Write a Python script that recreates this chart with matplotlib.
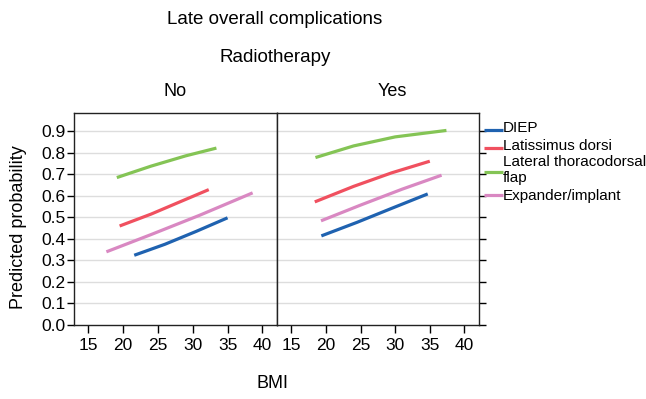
import matplotlib.pyplot as plt
from matplotlib.lines import Line2D

plt.rcParams['font.family'] = ['Liberation Sans', 'DejaVu Sans']

groups = ["DIEP", "Latissimus dorsi", "Lateral thoracodorsal\nflap", "Expander/implant"]
colors = ["#1f62b0", "#f0505f", "#84c455", "#d988c2"]

# Radiotherapy = No
no_bmi = [
    [21.6, 26.0, 30.5, 35.0],
    [19.5, 24.0, 28.0, 32.3],
    [19.1, 24.0, 29.0, 33.4],
    [17.6, 24.0, 31.0, 38.6],
]
no_prob = [
    [0.324, 0.375, 0.435, 0.498],
    [0.460, 0.515, 0.570, 0.629],
    [0.685, 0.738, 0.786, 0.822],
    [0.340, 0.420, 0.510, 0.614],
]

# Radiotherapy = Yes
yes_bmi = [
    [19.35, 24.5, 29.5, 34.7],
    [18.4, 24.0, 29.5, 35.0],
    [18.5, 24.0, 30.0, 37.4],
    [19.3, 25.0, 31.0, 36.7],
]
yes_prob = [
    [0.414, 0.477, 0.542, 0.609],
    [0.572, 0.644, 0.707, 0.761],
    [0.778, 0.832, 0.874, 0.904],
    [0.484, 0.557, 0.631, 0.696],
]

xticks = [15, 20, 25, 30, 35, 40]
yticks = [0.0, 0.1, 0.2, 0.3, 0.4, 0.5, 0.6, 0.7, 0.8, 0.9]

W, H = 646, 399
fig = plt.figure(figsize=(6.46, 3.99), dpi=100)
ax1 = fig.add_axes([74 / W, 1 - 325 / H, 203 / W, 212 / H])
ax2 = fig.add_axes([277 / W, 1 - 325 / H, 202 / W, 212 / H])

for ax, xs, ys in [(ax1, no_bmi, no_prob), (ax2, yes_bmi, yes_prob)]:
    for g in range(len(groups)):
        ax.plot(xs[g], ys[g], color=colors[g], lw=2.3, solid_capstyle='butt')
    ax.set_xlim(12.95, 42.1)
    ax.set_ylim(0, 0.985)
    ax.set_xticks(xticks)
    ax.set_yticks(yticks)
    for y in yticks[1:]:
        ax.axhline(y, color="#dddddd", lw=1, zorder=0)
    for s in ax.spines.values():
        s.set_linewidth(1)
        s.set_color("#222222")
    ax.tick_params(axis='x', direction='out', length=6, width=1, labelsize=12.5, pad=3)
    ax.tick_params(axis='y', direction='out', length=5, width=1, labelsize=12.5, pad=1)

ax2.yaxis.tick_right()
ax2.tick_params(axis='y', labelright=False)
ax1.set_yticklabels([f"{v:.1f}" for v in yticks])

fig.text(18.5 / W, 1 - 227 / H, "Predicted probability", rotation=90, ha='center', va='center', fontsize=13)
fig.text(275 / W, 1 - 19 / H, "Late overall complications", ha='center', va='center', fontsize=13.5)
fig.text(275 / W, 1 - 57 / H, "Radiotherapy", ha='center', va='center', fontsize=13.5)
fig.text(175 / W, 1 - 92 / H, "No", ha='center', va='center', fontsize=13)
fig.text(392 / W, 1 - 92 / H, "Yes", ha='center', va='center', fontsize=13)
fig.text(273 / W, 1 - 383 / H, "BMI", ha='center', va='center', fontsize=13)

# legend drawn by hand, JMP style
leg_y = [130, 147.5, 171.5, 194.5]
text_y = [128.5, 145.5, 170, 196]
for g in range(len(groups)):
    fig.add_artist(Line2D([484 / W, 502.5 / W], [1 - leg_y[g] / H] * 2, color=colors[g], lw=2.3,
                          solid_capstyle='butt'))
    fig.text(503 / W, 1 - text_y[g] / H, groups[g], ha='left', va='center', fontsize=11,
             linespacing=1.1)

fig.savefig("out.png", dpi=100)
